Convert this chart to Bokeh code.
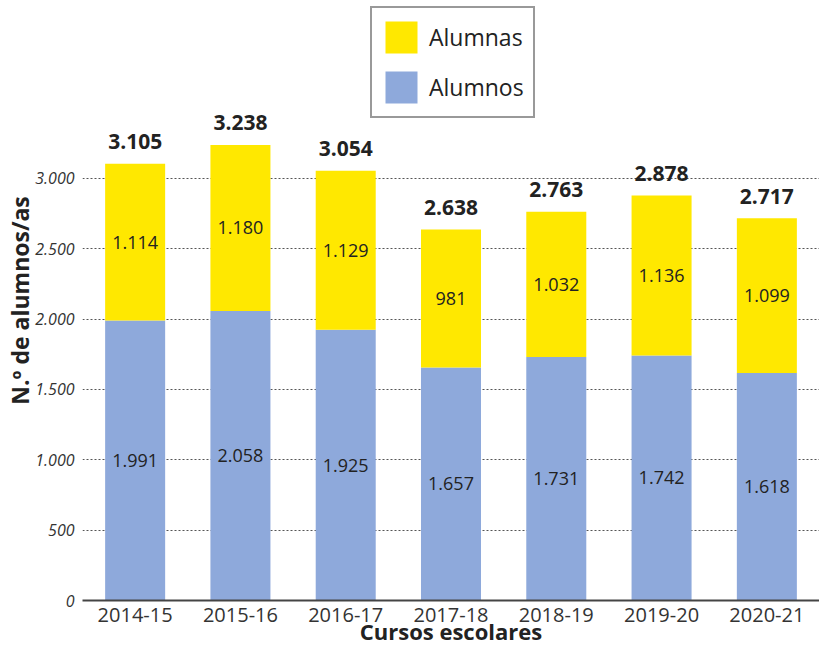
from bokeh.plotting import figure
from bokeh.models import (ColumnDataSource, FactorRange, Range1d, FixedTicker,
                          Legend, LegendItem)
from bokeh.embed import file_html
from bokeh.resources import INLINE
from bokeh.core.properties import value

cursos = ["2014-15", "2015-16", "2016-17", "2017-18", "2018-19", "2019-20", "2020-21"]
alumnos = [1991, 2058, 1925, 1657, 1731, 1742, 1618]
alumnas = [1114, 1180, 1129, 981, 1032, 1136, 1099]
y_ticks = [0, 500, 1000, 1500, 2000, 2500, 3000]

BLUE = "#8EA9DB"
YELLOW = "#FFE800"
FONT = "Open Sans"


def fmt(n):
    return "{:,}".format(n).replace(",", ".")


totals = [a + b for a, b in zip(alumnos, alumnas)]
src = ColumnDataSource(dict(
    cat=cursos, alumnos=alumnos, alumnas=alumnas, total=totals,
    y_alumnos=[a / 2 for a in alumnos],
    y_alumnas=[a + b / 2 for a, b in zip(alumnos, alumnas)],
    t_alumnos=[fmt(v) for v in alumnos],
    t_alumnas=[fmt(v) for v in alumnas],
    t_total=[fmt(v) for v in totals],
))

p = figure(x_range=FactorRange(factors=cursos, range_padding=0),
           y_range=Range1d(0, 4265), output_backend="svg", toolbar_location=None,
           min_border_left=82, min_border_right=0, min_border_top=0, min_border_bottom=47,
           frame_width=737, frame_height=600)
p.outline_line_color = None
p.background_fill_color = "white"

rs = p.vbar_stack(["alumnos", "alumnas"], x="cat", width=0.57, source=src,
                  color=[BLUE, YELLOW], line_color=None)

p.text(x="cat", y="y_alumnos", text="t_alumnos", source=src, text_align="center",
       text_baseline="middle", text_font=value(FONT), text_font_size="18px", text_color="#222222")
p.text(x="cat", y="y_alumnas", text="t_alumnas", source=src, text_align="center",
       text_baseline="middle", text_font=value(FONT), text_font_size="18px", text_color="#222222")
p.text(x="cat", y="total", text="t_total", source=src, text_align="center",
       text_baseline="middle", y_offset=-22, text_font=value(FONT), text_font_size="21px",
       text_font_style="bold", text_color="#222222")

# axes
p.yaxis.ticker = FixedTicker(ticks=y_ticks)
p.yaxis.major_label_overrides = {t: fmt(t) for t in y_ticks}
p.yaxis.axis_line_color = None
p.yaxis.major_tick_line_color = None
p.yaxis.minor_tick_line_color = None
p.yaxis.major_label_text_font = FONT
p.yaxis.major_label_text_font_style = "italic"
p.yaxis.major_label_text_font_size = "16px"
p.yaxis.major_label_text_color = "#333333"
p.yaxis.major_label_standoff = 2
p.yaxis.axis_label = "N.º de alumnos/as"
p.yaxis.axis_label_text_font = FONT
p.yaxis.axis_label_text_font_style = "bold"
p.yaxis.axis_label_text_font_size = "23px"
p.yaxis.axis_label_text_color = "#222222"
p.yaxis.axis_label_standoff = -4

p.xaxis.axis_line_color = "#444444"
p.xaxis.axis_line_width = 2
p.xaxis.major_tick_line_color = None
p.xaxis.minor_tick_line_color = None
p.xaxis.major_label_text_font = FONT
p.xaxis.major_label_text_font_size = "20px"
p.xaxis.major_label_text_color = "#333333"
p.xaxis.major_label_standoff = 1
p.xaxis.axis_label = "Cursos escolares"
p.xaxis.axis_label_text_font = FONT
p.xaxis.axis_label_text_font_style = "bold"
p.xaxis.axis_label_text_font_size = "22px"
p.xaxis.axis_label_text_color = "#222222"
p.xaxis.axis_label_standoff = -9

p.xgrid.grid_line_color = None
p.ygrid.ticker = FixedTicker(ticks=y_ticks[1:])
p.ygrid.grid_line_color = "#555555"
p.ygrid.grid_line_dash = "2 2"
p.ygrid.grid_line_width = 1

legend = Legend(items=[LegendItem(label="Alumnas", renderers=[rs[1]]),
                       LegendItem(label="Alumnos", renderers=[rs[0]])],
                location=(288, 482))
legend.glyph_width = 40
legend.glyph_height = 40
legend.label_height = 40
legend.spacing = 10
legend.padding = 9
legend.margin = 0
legend.label_standoff = 8
legend.label_text_font = FONT
legend.label_text_font_size = "23px"
legend.label_text_color = "#222222"
legend.border_line_color = "#333333"
legend.border_line_width = 2
legend.background_fill_color = "white"
legend.background_fill_alpha = 1
p.add_layout(legend)

open("out.html", "w").write(file_html(p, INLINE))
